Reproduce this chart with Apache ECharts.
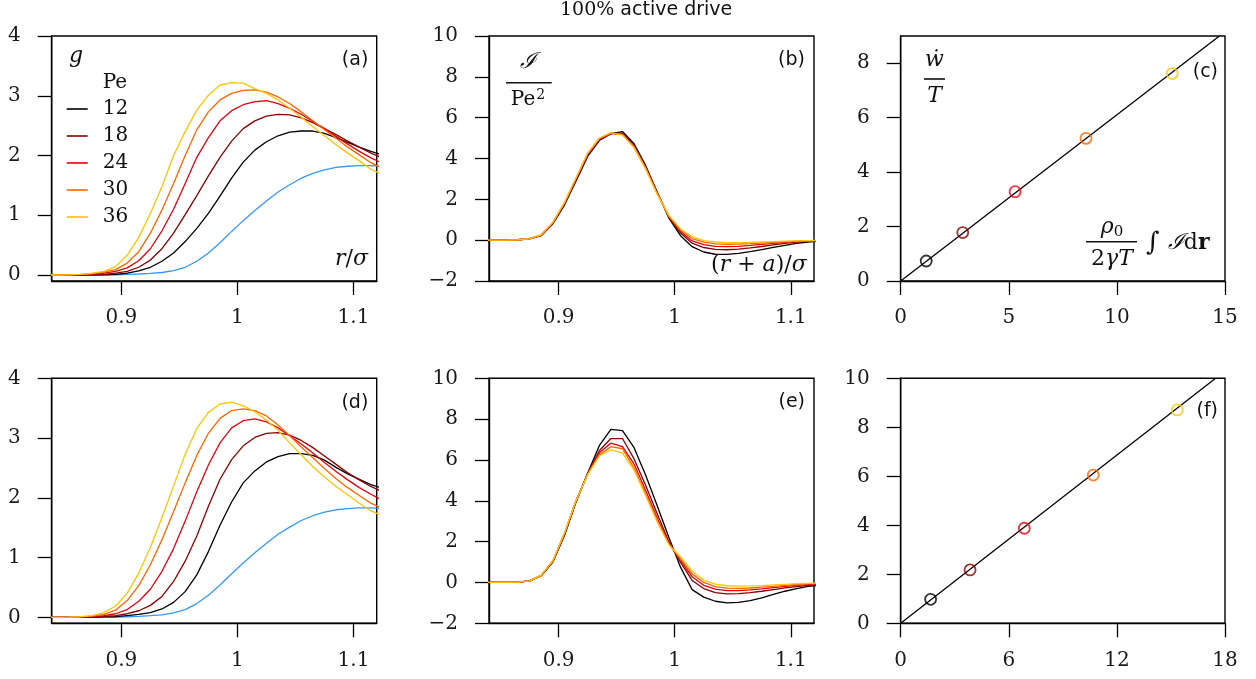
<!DOCTYPE html>
<html><head><meta charset="utf-8">
<script src="https://cdn.jsdelivr.net/npm/echarts@6/dist/echarts.min.js"></script>
<style>html,body{margin:0;padding:0;background:#fff}#c{width:1256px;height:679px}</style>
</head><body><div id="c"></div>
<script>
// ---------- DATA ----------
const xs = [0.835,0.845,0.855,0.865,0.875,0.885,0.895,0.905,0.915,0.925,0.935,0.945,0.955,0.965,0.975,0.985,0.995,1.005,1.015,1.025,1.035,1.045,1.055,1.065,1.075,1.085,1.095,1.105,1.115,1.125];
const peLabels = ['12','18','24','30','36'];

// (a) g(r), top row
const gA_ref = [0,0,0,0,0,0.002,0.005,0.01,0.017,0.027,0.042,0.075,0.13,0.23,0.37,0.54,0.73,0.91,1.08,1.24,1.39,1.51,1.62,1.70,1.76,1.80,1.82,1.83,1.83,1.82];
const gA_12 = [0,0,0,0,0.002,0.005,0.01,0.03,0.07,0.13,0.23,0.37,0.56,0.78,1.03,1.32,1.62,1.89,2.09,2.23,2.33,2.39,2.41,2.41,2.37,2.30,2.22,2.14,2.07,2.01];
const gA_18 = [0,0,0,0.002,0.005,0.012,0.03,0.06,0.13,0.25,0.44,0.70,1.01,1.33,1.66,1.97,2.24,2.45,2.58,2.66,2.69,2.68,2.63,2.55,2.45,2.35,2.24,2.14,2.04,1.96];
const gA_24 = [0,0,0.002,0.006,0.015,0.03,0.06,0.12,0.24,0.44,0.74,1.10,1.53,1.97,2.30,2.58,2.75,2.85,2.90,2.92,2.87,2.79,2.69,2.57,2.45,2.32,2.19,2.07,1.96,1.87];
const gA_30 = [0,0,0.003,0.01,0.025,0.05,0.09,0.20,0.39,0.70,1.09,1.53,2.00,2.43,2.73,2.93,3.04,3.09,3.10,3.06,2.98,2.87,2.73,2.58,2.43,2.29,2.14,2.01,1.88,1.78];
const gA_36 = [0,0,0.004,0.012,0.03,0.06,0.14,0.33,0.63,1.03,1.48,2.00,2.40,2.76,3.01,3.18,3.22,3.21,3.12,3.04,2.93,2.79,2.64,2.48,2.33,2.18,2.04,1.91,1.77,1.68];

// (b) I / Pe^2, top row
const iB_12 = [0,0,0.005,0.02,0.06,0.22,0.80,1.72,2.90,4.10,4.88,5.22,5.32,4.72,3.65,2.35,1.08,0.22,-0.32,-0.58,-0.69,-0.70,-0.65,-0.56,-0.46,-0.35,-0.25,-0.16,-0.09,-0.05];
const iB_18 = [0,0,0.005,0.02,0.07,0.24,0.84,1.78,2.97,4.17,4.93,5.24,5.24,4.63,3.58,2.31,1.12,0.35,-0.15,-0.36,-0.45,-0.47,-0.44,-0.38,-0.31,-0.23,-0.16,-0.10,-0.06,-0.04];
const iB_24 = [0,0,0.005,0.02,0.07,0.25,0.85,1.80,3.00,4.20,4.95,5.22,5.18,4.58,3.55,2.29,1.15,0.42,-0.04,-0.22,-0.30,-0.32,-0.30,-0.26,-0.21,-0.16,-0.11,-0.07,-0.04,-0.03];
const iB_30 = [0,0,0.005,0.02,0.07,0.25,0.86,1.82,3.03,4.24,4.98,5.25,5.17,4.56,3.52,2.27,1.18,0.50,0.08,-0.10,-0.18,-0.20,-0.19,-0.17,-0.14,-0.11,-0.08,-0.05,-0.03,-0.02];
const iB_36 = [0,0,0.005,0.02,0.07,0.26,0.88,1.85,3.06,4.27,5.00,5.27,5.15,4.53,3.48,2.24,1.20,0.55,0.17,-0.02,-0.09,-0.12,-0.12,-0.11,-0.09,-0.07,-0.05,-0.03,-0.02,-0.01];

// (c) work vs integral, top row
const wC_x = [1.18,2.87,5.29,8.57,12.56];
const wC_y = [0.735,1.78,3.28,5.24,7.62];
const fitC_x = [0,14.74];
const fitC_y = [0,9];

// (d) g(r), bottom row
const gD_ref = [0,0,0,0,0,0.002,0.005,0.01,0.017,0.027,0.042,0.075,0.13,0.23,0.37,0.54,0.73,0.91,1.08,1.24,1.39,1.51,1.62,1.70,1.76,1.80,1.82,1.83,1.83,1.82];
const gD_12 = [0,0,0,0,0.003,0.006,0.01,0.03,0.05,0.08,0.14,0.25,0.43,0.71,1.10,1.54,1.93,2.25,2.45,2.60,2.69,2.74,2.74,2.71,2.63,2.51,2.40,2.31,2.22,2.16];
const gD_18 = [0,0,0,0.002,0.006,0.015,0.03,0.06,0.11,0.20,0.35,0.60,0.94,1.36,1.86,2.31,2.64,2.87,3.01,3.08,3.09,3.05,2.96,2.84,2.70,2.56,2.42,2.30,2.19,2.10];
const gD_24 = [0,0,0.002,0.006,0.015,0.03,0.06,0.13,0.27,0.47,0.77,1.15,1.61,2.10,2.55,2.92,3.17,3.29,3.32,3.27,3.17,3.04,2.90,2.75,2.59,2.44,2.30,2.17,2.06,1.96];
const gD_30 = [0,0,0.003,0.008,0.02,0.05,0.12,0.28,0.53,0.88,1.30,1.77,2.25,2.71,3.08,3.33,3.46,3.49,3.46,3.37,3.22,3.04,2.85,2.67,2.49,2.32,2.17,2.04,1.91,1.82];
const gD_36 = [0,0,0.004,0.01,0.03,0.08,0.19,0.40,0.74,1.17,1.67,2.20,2.73,3.16,3.43,3.57,3.60,3.54,3.44,3.30,3.13,2.92,2.72,2.52,2.35,2.19,2.05,1.91,1.78,1.70];

// (e) I / Pe^2, bottom row
const iE_12 = [0,0,0.005,0.02,0.08,0.33,1.00,2.30,3.95,5.35,6.70,7.50,7.44,6.60,5.25,3.75,2.20,0.75,-0.35,-0.72,-0.92,-1.00,-0.98,-0.89,-0.76,-0.58,-0.43,-0.30,-0.19,-0.13];
const iE_18 = [0,0,0.005,0.02,0.08,0.34,1.02,2.35,3.97,5.33,6.45,7.05,7.05,6.05,4.75,3.35,2.00,0.98,0.10,-0.30,-0.50,-0.56,-0.55,-0.50,-0.43,-0.35,-0.27,-0.20,-0.14,-0.10];
const iE_24 = [0,0,0.005,0.02,0.08,0.35,1.04,2.38,4.00,5.32,6.35,6.82,6.65,5.80,4.50,3.15,1.92,1.08,0.28,-0.14,-0.33,-0.40,-0.40,-0.36,-0.31,-0.25,-0.19,-0.14,-0.10,-0.07];
const iE_30 = [0,0,0.005,0.02,0.08,0.35,1.05,2.40,4.00,5.30,6.25,6.65,6.55,5.60,4.35,3.05,1.88,1.15,0.42,0.00,-0.20,-0.28,-0.29,-0.27,-0.23,-0.19,-0.14,-0.10,-0.07,-0.05];
const iE_36 = [0,0,0.005,0.02,0.08,0.36,1.06,2.42,4.02,5.28,6.20,6.50,6.33,5.50,4.25,2.95,1.85,1.25,0.55,0.12,-0.08,-0.16,-0.18,-0.17,-0.15,-0.12,-0.09,-0.06,-0.04,-0.03];

// (f) work vs integral, bottom row
const wF_x = [1.66,3.85,6.86,10.69,15.35];
const wF_y = [0.98,2.18,3.88,6.05,8.71];
const fitF_x = [0,17.48];
const fitF_y = [0,10];

// tick labels
const ticksR = [0.9, 1, 1.1];
const ticksG = [0, 1, 2, 3, 4];
const ticksI = [-2, 0, 2, 4, 6, 8, 10];
const ticksCx = [0, 5, 10, 15];
const ticksCy = [0, 2, 4, 6, 8];
const ticksFx = [0, 6, 12, 18];
const ticksFy = [0, 2, 4, 6, 8, 10];

// ---------- STYLE ----------
const peColors = ['#000000', '#8b0000', '#e8000b', '#ff6400', '#ffc400'];
const refColor = '#3399ff';
const SERIF = 'DejaVu Serif';
const SANS = 'DejaVu Sans';
const grids = [
  {left: 51.7, top: 36, width: 325, height: 245},
  {left: 489, top: 36, width: 325, height: 245},
  {left: 900.7, top: 36, width: 324.3, height: 245},
  {left: 51.7, top: 378.3, width: 325, height: 245},
  {left: 489, top: 378.3, width: 325, height: 245},
  {left: 900.7, top: 378.3, width: 324.3, height: 245}
].map(g => Object.assign({show: true, borderColor: '#000', borderWidth: 1.4, backgroundColor: 'transparent'}, g));

const minusFmt = v => String(v).replace('-', '\u2212');
function axis(idx, min, max, ticks, margin) {
  return {
    type: 'value', gridIndex: idx, min, max,
    axisLine: {show: true, onZero: false, lineStyle: {color: '#000', width: 1.4}},
    axisTick: {show: true, inside: false, length: 14, customValues: ticks, lineStyle: {color: '#000', width: 1.3}},
    axisLabel: {customValues: ticks, margin, fontFamily: SERIF, fontSize: 20, color: '#1a1a1a', formatter: minusFmt},
    splitLine: {show: false}
  };
}
const xAxes = [
  axis(0, 0.84, 1.12, ticksR, 27), axis(1, 0.84, 1.12, ticksR, 27), axis(2, 0, 15, ticksCx, 27),
  axis(3, 0.84, 1.12, ticksR, 27), axis(4, 0.84, 1.12, ticksR, 27), axis(5, 0, 18, ticksFx, 27)
];
const yAxes = [
  axis(0, -0.1, 4, ticksG, 31), axis(1, -2, 10, ticksI, 31), axis(2, 0, 9, ticksCy, 31),
  axis(3, -0.1, 4, ticksG, 31), axis(4, -2, 10, ticksI, 31), axis(5, 0, 10, ticksFy, 31)
];

function line(name, gi, ys, color, xv) {
  const xx = xv || xs;
  return {
    type: 'line', name, xAxisIndex: gi, yAxisIndex: gi,
    data: xx.map((x, i) => [x, ys[i]]),
    symbol: 'none', clip: true, animation: false, silent: true,
    lineStyle: {color, width: 1.3}, itemStyle: {color},
    emphasis: {disabled: true}
  };
}
function scatter(gi, xv, yv) {
  return {
    type: 'scatter', name: 'points', xAxisIndex: gi, yAxisIndex: gi, animation: false, silent: true,
    symbol: 'circle', symbolSize: 11, z: 5,
    data: xv.map((x, i) => ({value: [x, yv[i]], itemStyle: {color: 'rgba(0,0,0,0)', borderColor: peColors[i], borderWidth: 1.8}})),
    emphasis: {disabled: true}
  };
}

const series = [];
series.push(line('passive', 0, gA_ref, refColor));
[gA_12, gA_18, gA_24, gA_30, gA_36].forEach((ys, k) => series.push(line(peLabels[k], 0, ys, peColors[k])));
[iB_12, iB_18, iB_24, iB_30, iB_36].forEach((ys, k) => series.push(line(peLabels[k], 1, ys, peColors[k])));
series.push(line('fit', 2, fitC_y, '#000', fitC_x));
series.push(scatter(2, wC_x, wC_y));
series.push(line('passive', 3, gD_ref, refColor));
[gD_12, gD_18, gD_24, gD_30, gD_36].forEach((ys, k) => series.push(line(peLabels[k], 3, ys, peColors[k])));
[iE_12, iE_18, iE_24, iE_30, iE_36].forEach((ys, k) => series.push(line(peLabels[k], 4, ys, peColors[k])));
series.push(line('fit', 5, fitF_y, '#000', fitF_x));
series.push(scatter(5, wF_x, wF_y));

// text annotations
function txt(x, y, text, font, align, rich) {
  return {type: 'text', x, y, silent: true, z: 10,
    style: {text, font, fill: '#111', align: align || 'center', verticalAlign: 'middle', rich: rich}};
}
function bar(x1, x2, y) {
  return {type: 'line', silent: true, z: 10, shape: {x1, y1: y, x2, y2: y}, style: {stroke: '#111', lineWidth: 1.6}};
}
const it = {fontFamily: SERIF, fontStyle: 'italic', fontSize: 22, fill: '#111'};
const up = {fontFamily: SERIF, fontSize: 22, fill: '#111'};
const graphic = [
  // title
  txt(560, 10, '{s|100%} {t|active drive}', '19px ' + SANS, 'left',
      {s: {fontFamily: SERIF, fontSize: 19, fill: '#111'}, t: {fontFamily: SANS, fontSize: 19, fill: '#111'}}),
  // panel tags
  txt(368.3, 60.3, '(a)', '19px ' + SANS, 'right'),
  txt(805, 60, '(b)', '19px ' + SANS, 'right'),
  txt(1218, 72, '(c)', '19px ' + SANS, 'right'),
  txt(368.3, 403, '(d)', '19px ' + SANS, 'right'),
  txt(805, 402, '(e)', '19px ' + SANS, 'right'),
  txt(1218, 411, '(f)', '19px ' + SANS, 'right'),
  // (a)
  txt(76, 56, 'g', 'italic 22px ' + SERIF),
  txt(102.7, 83, 'Pe', '20px ' + SERIF, 'left'),
  txt(368, 259, '{i|r}{u|/}{i|σ}', '22px ' + SERIF, 'right', {i: it, u: up}),
  // (b)
  txt(528, 62, 'ℐ', 'italic 22px ' + SERIF),
  bar(506, 551.7, 82.7),
  txt(528, 100, '{u|Pe}{s|2}', '20px ' + SERIF, 'center', {u: {fontFamily: SERIF, fontSize: 20, fill: '#111'}, s: {fontFamily: SERIF, fontSize: 14, fill: '#111', padding: [0, 0, 10, 1]}}),
  txt(806.7, 265, '{u|(}{i|r}{u| + }{i|a}{u|)/}{i|σ}', '22px ' + SERIF, 'right', {i: it, u: up}),
  // (c)
  txt(934.5, 60, 'ẇ', 'italic 22px ' + SERIF),
  bar(924, 945, 79),
  txt(934.5, 96, 'T', 'italic 22px ' + SERIF),
  txt(1112, 227, '{i|ρ}{s|0}', '22px ' + SERIF, 'center', {i: it, s: {fontFamily: SERIF, fontSize: 15, fill: '#111', padding: [10, 0, 0, 0]}}),
  bar(1086, 1137, 241.7),
  txt(1112, 259, '{u|2}{i|γT}', '22px ' + SERIF, 'center', {i: it, u: up}),
  txt(1146, 243, '{n|∫ }{i|ℐ}{u|d}{b|r}', '22px ' + SERIF, 'left',
      {n: {fontFamily: SERIF, fontSize: 26, fill: '#111'}, i: it, u: up, b: {fontFamily: SERIF, fontWeight: 'bold', fontSize: 22, fill: '#111'}})
];

const option = {
  backgroundColor: '#fff',
  animation: false,
  legend: {
    data: peLabels, orient: 'vertical', left: 66.7, top: 99, padding: 0,
    icon: 'rect', itemWidth: 21, itemHeight: 1.6, itemGap: 7, selectedMode: true,
    textStyle: {fontFamily: SERIF, fontSize: 20, color: '#111', lineHeight: 20, padding: [0, 0, 0, 10]}
  },
  grid: grids, xAxis: xAxes, yAxis: yAxes, series, graphic
};
const chart = echarts.init(document.getElementById('c'), null, {renderer: 'canvas'});
chart.setOption(option);
</script></body></html>
